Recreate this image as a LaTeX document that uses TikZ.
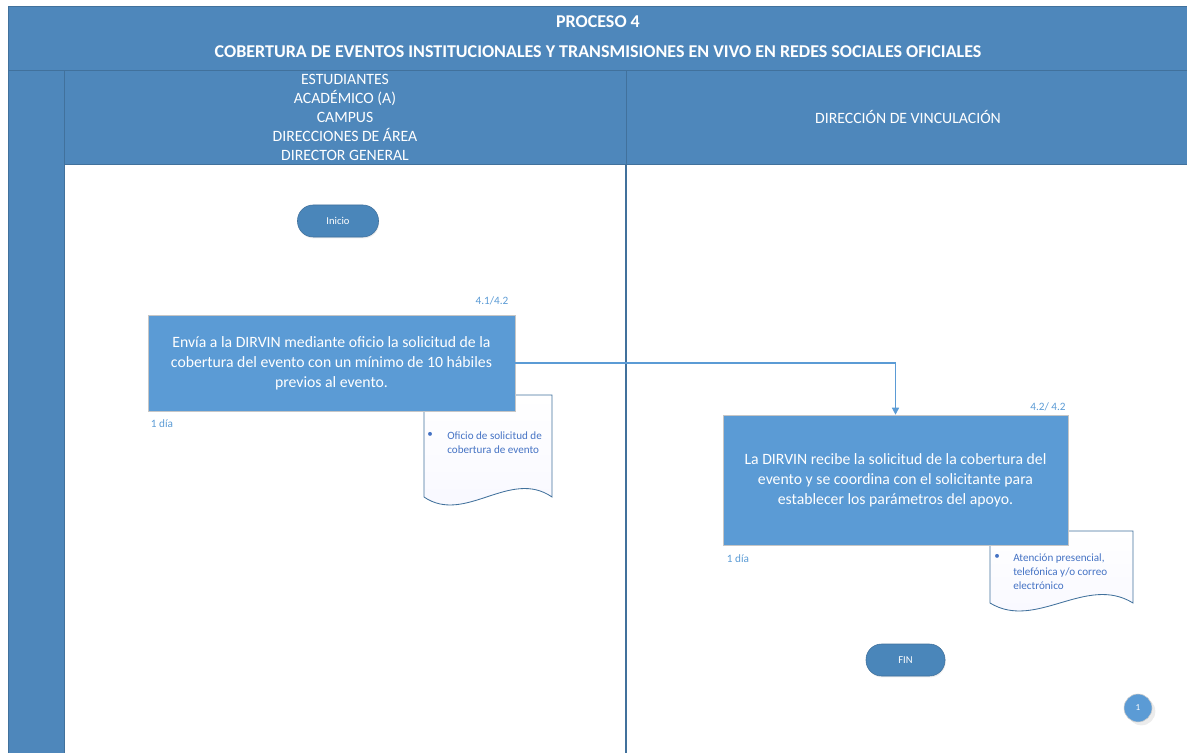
\documentclass[tikz,border=0pt]{standalone}
\usepackage{fontspec}
\setmainfont{Carlito}
\usepackage{tikz}
\usetikzlibrary{arrows.meta,positioning,shadows}
\definecolor{headblue}{RGB}{78,135,187}
\definecolor{edgeblue}{RGB}{65,113,156}
\definecolor{boxblue}{RGB}{91,155,213}
\definecolor{termblue}{RGB}{74,134,186}
\definecolor{noteblue}{RGB}{91,155,213}
\definecolor{docblue}{RGB}{68,114,196}

\begin{document}
\begin{tikzpicture}
                        [
                            x=0.025cm, y=-0.025cm,
                            band style/.style={fill=headblue, draw=edgeblue, line width=0.6pt},
                            title style/.style={text=white, font=\fontsize{12.8}{15}\selectfont\bfseries},
                            lane style/.style={text=white, align=center, font=\fontsize{11.2}{13.5}\selectfont},
                            process box/.style={rectangle, fill=boxblue, draw=gray!45, text=white, align=center,
                                inner sep=0pt, font=\fontsize{11.2}{14.2}\selectfont,
                                drop shadow={opacity=0.2, shadow xshift=1pt, shadow yshift=-1pt}},
                            terminal/.style={rectangle, rounded corners=0.39cm, fill=termblue, draw=edgeblue,
                                text=white, inner sep=0pt, minimum height=0.8cm, font=\fontsize{7.5}{9}\selectfont,
                                drop shadow={opacity=0.15, shadow xshift=0.5pt, shadow yshift=-1pt}},
                            note style/.style={text=noteblue, inner sep=0pt, font=\fontsize{8}{9}\selectfont},
                            doc shape/.style={draw=edgeblue, line width=0.6pt, top color=white, bottom color=blue!3},
                            doc text/.style={text=docblue, inner sep=0pt, align=left, font=\fontsize{7.9}{9.8}\selectfont},
                            flow arrow/.style={draw=boxblue, line width=1pt, -{Triangle[width=5pt,length=5pt]}}
                        ]
                        \useasboundingbox (0,0) rectangle (1187,753);
                        % pool and lanes
                        \draw[band style] (8,6) rectangle (1195,70);
                        \draw[band style] (8,70) rectangle (64,760);
                        \draw[band style] (64,70) rectangle (626,164);
                        \draw[band style] (626,70) rectangle (1195,164);
                        \draw[edgeblue, line width=0.8pt] (626,164) -- (626,760);
                        \draw[edgeblue, line width=0.6pt] (64,164) -- (64,760);
                        \node[title style] (proc) at (598,22) {PROCESO 4};
                        \node[title style] (titulo) at (598,52) {COBERTURA DE EVENTOS INSTITUCIONALES Y TRANSMISIONES EN VIVO EN REDES SOCIALES OFICIALES};
                        \node[lane style] (laneA) at (345,117) {ESTUDIANTES\\ACADÉMICO (A)\\CAMPUS\\DIRECCIONES DE ÁREA\\DIRECTOR GENERAL};
                        \node[lane style] (laneB) at (908,117) {DIRECCIÓN DE VINCULACIÓN};

                        % documents (behind the boxes)
                        \draw[doc shape] (424,395) -- (424,497) .. controls (465,525) and (510,468) .. (552,497) -- (552,395) -- cycle;
                        \node[doc text, anchor=north west] (bulA) at (427,432) {\textbullet};
                        \node[doc text, anchor=north west] (oficio) at (447,432) {Oficio de solicitud de\\cobertura de evento};
                        \draw[doc shape] (990,531) -- (990,603) .. controls (1036,631) and (1086,574) .. (1133,603) -- (1133,531) -- cycle;
                        \node[doc text, anchor=north west] (bulB) at (994,554) {\textbullet};
                        \node[doc text, anchor=north west] (atencion) at (1013,554) {Atención presencial,\\telefónica y/o correo\\electrónico};

                        \node[terminal, minimum width=2.025cm] (inicio) at (338,221) {Inicio};
                        \node[process box, minimum width=9.175cm, minimum height=2.4cm] (envia) at (331.5,363)
                            {Envía a la DIRVIN mediante oficio la solicitud de la\\cobertura del evento con un mínimo de 10 hábiles\\previos al evento.};
                        \node[process box, minimum width=8.625cm, minimum height=3.25cm] (recibe) at (895.5,480)
                            {La DIRVIN recibe la solicitud de la cobertura del\\evento y se coordina con el solicitante para\\establecer los parámetros del apoyo.};
                        \node[terminal, minimum width=1.975cm] (fin) at (905.5,660) {FIN};
                        \node[circle, fill=boxblue, draw=gray!40, text=white, minimum size=0.7cm, inner sep=0pt,
                            font=\fontsize{6.5}{8}\selectfont, drop shadow={opacity=0.15}] (pag) at (1138,708) {1};

                        \node[note style] (refA) at (492,301) {4.1/4.2};
                        \node[note style] (diaA) at (162,424) {1 día};
                        \node[note style] (refB) at (1048,407) {4.2/ 4.2};
                        \node[note style] (diaB) at (738,559) {1 día};

                        \draw[flow arrow] (envia.east) -| (recibe.north);
                        \end{tikzpicture}
\end{document}
